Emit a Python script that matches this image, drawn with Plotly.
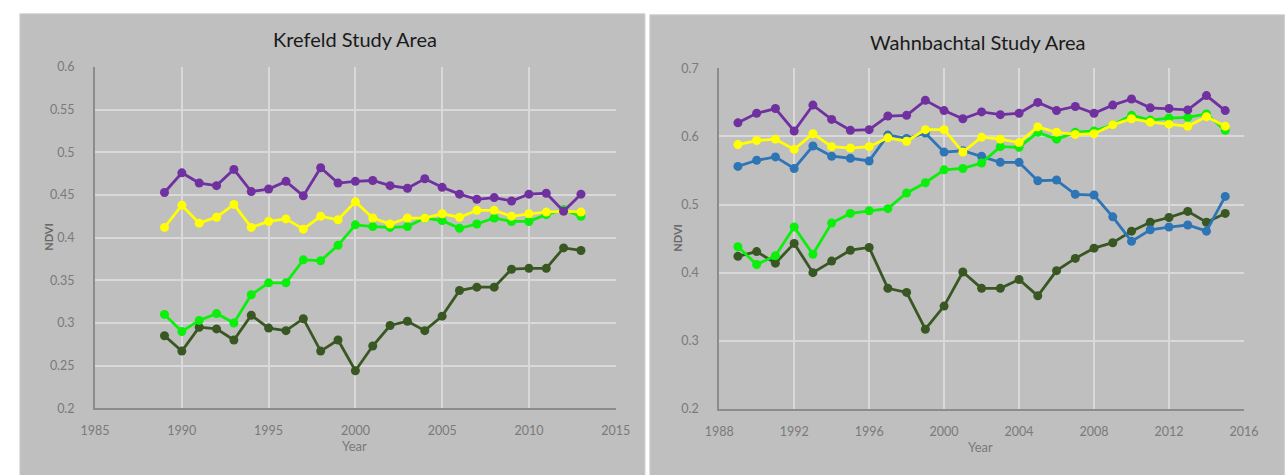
import plotly.graph_objects as go

# ---- Krefeld study area (1989-2013) ----
kre_years = list(range(1989, 2014))
kre_purple = [0.453, 0.476, 0.464, 0.461, 0.480, 0.454, 0.457, 0.466, 0.449, 0.482,
              0.464, 0.466, 0.467, 0.461, 0.458, 0.469, 0.459, 0.451, 0.445, 0.447,
              0.443, 0.451, 0.452, 0.431, 0.451]
kre_yellow = [0.412, 0.438, 0.417, 0.424, 0.439, 0.412, 0.419, 0.422, 0.410, 0.425,
              0.421, 0.442, 0.423, 0.416, 0.423, 0.423, 0.428, 0.424, 0.432, 0.432,
              0.425, 0.428, 0.430, 0.431, 0.430]
kre_green = [0.310, 0.290, 0.303, 0.311, 0.300, 0.333, 0.347, 0.347, 0.374, 0.373,
             0.391, 0.415, 0.413, 0.412, 0.413, 0.423, 0.420, 0.411, 0.416, 0.423,
             0.419, 0.419, 0.427, 0.433, 0.425]
kre_dark = [0.285, 0.267, 0.295, 0.293, 0.280, 0.309, 0.294, 0.291, 0.305, 0.267,
            0.280, 0.244, 0.273, 0.297, 0.302, 0.291, 0.308, 0.338, 0.342, 0.342,
            0.363, 0.364, 0.364, 0.388, 0.385]

# ---- Wahnbachtal study area (1989-2015) ----
wah_years = list(range(1989, 2016))
wah_purple = [0.620, 0.634, 0.641, 0.608, 0.646, 0.625, 0.609, 0.610, 0.630, 0.631,
              0.653, 0.638, 0.626, 0.636, 0.632, 0.634, 0.650, 0.638, 0.644, 0.634,
              0.646, 0.655, 0.642, 0.641, 0.639, 0.660, 0.638]
wah_yellow = [0.588, 0.594, 0.596, 0.581, 0.604, 0.585, 0.583, 0.585, 0.598, 0.593,
              0.610, 0.610, 0.577, 0.599, 0.596, 0.591, 0.614, 0.606, 0.603, 0.604,
              0.617, 0.626, 0.621, 0.618, 0.615, 0.629, 0.615]
wah_blue = [0.556, 0.565, 0.570, 0.553, 0.586, 0.571, 0.568, 0.564, 0.602, 0.597,
            0.605, 0.577, 0.579, 0.571, 0.562, 0.562, 0.535, 0.536, 0.515, 0.514,
            0.482, 0.446, 0.463, 0.467, 0.470, 0.461, 0.512]
wah_green = [0.438, 0.412, 0.425, 0.467, 0.427, 0.473, 0.487, 0.491, 0.494, 0.517,
             0.532, 0.551, 0.553, 0.561, 0.585, 0.584, 0.606, 0.596, 0.606, 0.608,
             0.617, 0.631, 0.624, 0.627, 0.628, 0.633, 0.609]
wah_dark = [0.424, 0.431, 0.414, 0.443, 0.400, 0.417, 0.433, 0.437, 0.377, 0.371,
            0.317, 0.351, 0.401, 0.377, 0.377, 0.390, 0.366, 0.403, 0.421, 0.436,
            0.444, 0.461, 0.474, 0.481, 0.490, 0.474, 0.487]

PURPLE = "#7030A0"
YELLOW = "#FFFF00"
GREEN = "#0AF00A"
DARK = "#385723"
BLUE = "#2E75B6"

PANEL = "#BFBFBF"
GRID = "#D9D9D9"
AXIS = "#8C8C8C"
TICK = "#7A7A7A"
FONT = "Lato"

W, H = 1287, 475


def px_x(p):
    return p / W


def px_y(p):
    return 1 - p / H


fig = go.Figure()


def add_series(x, y, color, xa, ya):
    fig.add_trace(go.Scatter(
        x=x, y=y, mode="lines+markers", xaxis=xa, yaxis=ya,
        line=dict(color=color, width=2.8),
        marker=dict(color=color, size=9),
        showlegend=False, hoverinfo="x+y",
    ))


for ys, c in [(kre_dark, DARK), (kre_green, GREEN), (kre_yellow, YELLOW), (kre_purple, PURPLE)]:
    add_series(kre_years, ys, c, "x", "y")

for ys, c in [(wah_dark, DARK), (wah_blue, BLUE), (wah_green, GREEN), (wah_yellow, YELLOW), (wah_purple, PURPLE)]:
    add_series(wah_years, ys, c, "x2", "y2")

common_x = dict(showgrid=True, gridcolor=GRID, gridwidth=1.5, showline=True,
                linecolor=AXIS, linewidth=2, ticks="", zeroline=False,
                tickfont=dict(family=FONT, size=12.5, color=TICK), fixedrange=True,
                ticklabelstandoff=10)
common_y = dict(showgrid=True, gridcolor=GRID, gridwidth=1.5, showline=True,
                linecolor=AXIS, linewidth=2, ticks="", zeroline=False,
                tickfont=dict(family=FONT, size=12.5, color=TICK), fixedrange=True,
                ticklabelstandoff=16)

fig.update_layout(
    width=W, height=H,
    margin=dict(l=0, r=0, t=0, b=0),
    paper_bgcolor="white",
    plot_bgcolor=PANEL,
    xaxis=dict(common_x, domain=[px_x(82), px_x(615)], range=[1985, 2015],
               dtick=5, tick0=1985, anchor="y"),
    yaxis=dict(common_y, domain=[px_y(413.3), px_y(61)], range=[0.2, 0.6],
               dtick=0.05, tick0=0.2, anchor="x"),
    xaxis2=dict(common_x, domain=[px_x(721), px_x(1258.3)], range=[1988, 2016],
                dtick=4, tick0=1988, anchor="y2"),
    yaxis2=dict(common_y, domain=[px_y(414), px_y(62.3)], range=[0.2, 0.7],
                dtick=0.1, tick0=0.2, anchor="x2"),
    shapes=[
        dict(type="rect", xref="paper", yref="paper", layer="below",
             x0=px_x(5), x1=px_x(645), y0=-0.02, y1=px_y(6),
             fillcolor=PANEL, line=dict(color="#D0D0D0", width=1)),
        dict(type="rect", xref="paper", yref="paper", layer="below",
             x0=px_x(650), x1=1.01, y0=-0.02, y1=px_y(7),
             fillcolor=PANEL, line=dict(color="#D0D0D0", width=1)),
    ],
)

annotations = [
    dict(text="Krefeld Study Area", x=px_x(348), y=px_y(32), size=20, color="#1A1A1A"),
    dict(text="Wahnbachtal Study Area", x=px_x(986), y=px_y(35), size=20, color="#1A1A1A"),
    dict(text="Year", x=px_x(348), y=px_y(452), size=13, color="#7A7A7A"),
    dict(text="Year", x=px_x(989), y=px_y(453), size=13, color="#7A7A7A"),
]
for a in annotations:
    fig.add_annotation(xref="paper", yref="paper", x=a["x"], y=a["y"], text=a["text"],
                       showarrow=False, xanchor="center", yanchor="middle",
                       font=dict(family=FONT, size=a["size"], color=a["color"]))

for xc, yc in [(34, 237), (678, 238)]:
    fig.add_annotation(xref="paper", yref="paper", x=px_x(xc), y=px_y(yc), text="<b>NDVI</b>",
                       showarrow=False, textangle=-90, xanchor="center", yanchor="middle",
                       font=dict(family=FONT, size=11, color="#666666"))

fig.write_html("out.html")
